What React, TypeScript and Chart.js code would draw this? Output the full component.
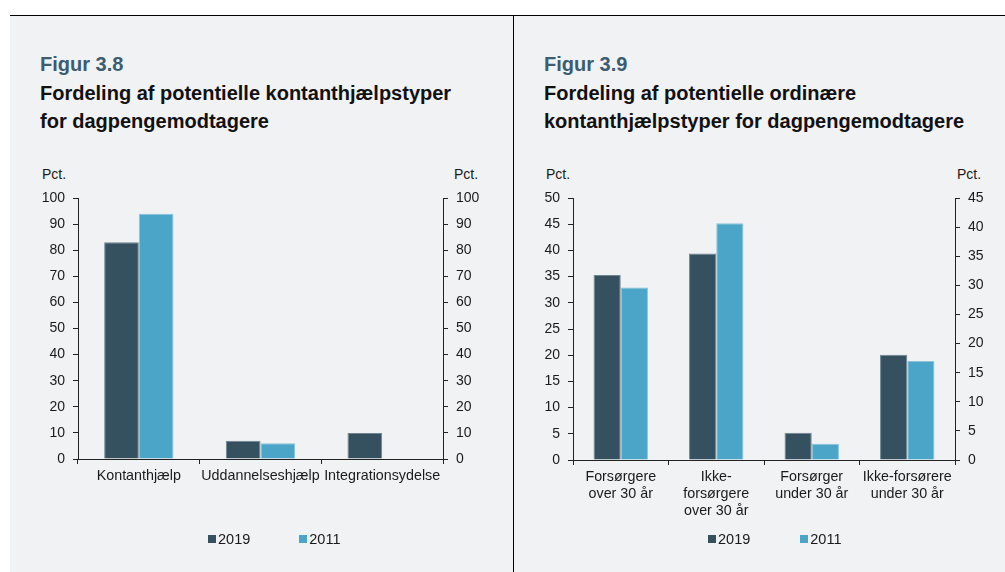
import React, { useEffect, useRef } from "react";
import { Chart, registerables } from "chart.js";

Chart.register(...registerables);

const FONT = "'Liberation Sans', Arial, Helvetica, sans-serif";

// ---- Figur 3.8 data ----
const fig1Categories = ["Kontanthjælp", "Uddannelseshjælp", "Integrationsydelse"];
const fig1Values2019 = [83, 7, 10];
const fig1Values2011: (number | null)[] = [94, 6, null];
const fig1LeftAxis = [0, 100, 10]; // min, max, step
const fig1RightAxis = [0, 100, 10];

// ---- Figur 3.9 data ----
const fig2Categories = [
  ["Forsørgere", "over 30 år"],
  ["Ikke-", "forsørgere", "over 30 år"],
  ["Forsørger", "under 30 år"],
  ["Ikke-forsørere", "under 30 år"],
];
const fig2Values2019 = [35.3, 39.4, 5.2, 20.1];
const fig2Values2011 = [32.9, 45.2, 3.1, 18.9];
const fig2LeftAxis = [0, 50, 5];
const fig2RightAxis = [0, 45, 5];

const seriesNames = ["2019", "2011"];
const seriesColors = ["#35515f", "#4ba5c9"];
const seriesBorders = ["#6f8592", "#8cc3da"];

const AXIS = "#222222";
const TEXT = "#1a1a1a";

function makeConfig(
  categories: any[],
  v2019: (number | null)[],
  v2011: (number | null)[],
  left: number[],
  right: number[],
  xHeight: number,
  bottomPad: number,
  leftW: number,
  rightW: number
): any {
  const tickFont = { family: FONT, size: 14 };
  return {
    type: "bar",
    data: {
      labels: categories,
      datasets: [v2019, v2011].map((d, i) => ({
        label: seriesNames[i],
        data: d,
        backgroundColor: seriesColors[i],
        borderColor: seriesBorders[i],
        borderWidth: 1,
        categoryPercentage: 0.57,
        barPercentage: 1,
        yAxisID: "y",
      })),
    },
    options: {
      animation: false,
      responsive: false,
      maintainAspectRatio: false,
      layout: { padding: { top: 48, bottom: bottomPad, left: 0, right: 0 } },
      plugins: {
        legend: { display: false },
        tooltip: { enabled: false },
      },
      scales: {
        x: {
          grid: {
            display: true,
            drawOnChartArea: false,
            drawTicks: true,
            tickLength: 5,
            color: AXIS,
            offset: true,
          },
          border: { display: true, color: AXIS, width: 1 },
          ticks: {
            color: TEXT,
            font: { family: FONT, size: 14.3 },
            padding: 3,
            maxRotation: 0,
            minRotation: 0,
            autoSkip: false,
          },
          afterFit: (s: any) => {
            s.height = xHeight;
          },
        },
        y: {
          position: "left",
          min: left[0],
          max: left[1],
          grid: {
            display: true,
            drawOnChartArea: false,
            drawTicks: true,
            tickLength: 5,
            color: AXIS,
          },
          border: { display: true, color: AXIS, width: 1 },
          ticks: { stepSize: left[2], color: TEXT, font: tickFont, padding: 8 },
          afterFit: (s: any) => {
            s.width = leftW;
          },
        },
        y2: {
          position: "right",
          min: right[0],
          max: right[1],
          grid: {
            display: true,
            drawOnChartArea: false,
            drawTicks: true,
            tickLength: 5,
            color: AXIS,
          },
          border: { display: true, color: AXIS, width: 1 },
          ticks: { stepSize: right[2], color: TEXT, font: tickFont, padding: 8 },
          afterFit: (s: any) => {
            s.width = rightW;
          },
        },
      },
    },
  };
}

function BarCanvas(props: {
  config: any;
  left: number;
  top: number;
  width: number;
  height: number;
}) {
  const ref = useRef<HTMLCanvasElement | null>(null);
  useEffect(() => {
    if (!ref.current) return;
    const chart = new Chart(ref.current, props.config);
    return () => chart.destroy();
  }, []);
  return (
    <canvas
      ref={ref}
      width={props.width}
      height={props.height}
      style={{
        position: "absolute",
        left: props.left,
        top: props.top,
        width: props.width,
        height: props.height,
      }}
    />
  );
}

function Legend(props: { left: number; top: number; gap: number }) {
  return (
    <div
      style={{
        position: "absolute",
        left: props.left,
        top: props.top,
        display: "flex",
        alignItems: "center",
        fontFamily: FONT,
        fontSize: 14.5,
        lineHeight: "16px",
        color: TEXT,
        whiteSpace: "nowrap",
      }}
    >
      {seriesNames.map((name, i) => (
        <div
          key={name}
          style={{
            display: "flex",
            alignItems: "center",
            marginLeft: i === 0 ? 0 : props.gap,
          }}
        >
          <span
            style={{
              display: "inline-block",
              width: 8,
              height: 8,
              background: seriesColors[i],
              marginRight: 2,
            }}
          />
          <span>{name}</span>
        </div>
      ))}
    </div>
  );
}

const figNumStyle: React.CSSProperties = {
  position: "absolute",
  fontFamily: FONT,
  fontWeight: "bold",
  fontSize: 20,
  lineHeight: "28px",
  color: "#3c5c70",
  whiteSpace: "nowrap",
};
const titleStyle: React.CSSProperties = {
  position: "absolute",
  fontFamily: FONT,
  fontWeight: "bold",
  fontSize: 20,
  lineHeight: "28px",
  color: "#111111",
  whiteSpace: "nowrap",
};
const unitStyle: React.CSSProperties = {
  position: "absolute",
  fontFamily: FONT,
  fontSize: 14,
  lineHeight: "16px",
  color: TEXT,
  whiteSpace: "nowrap",
};

export default function App() {
  const cfg1 = makeConfig(
    fig1Categories,
    fig1Values2019,
    fig1Values2011,
    fig1LeftAxis,
    fig1RightAxis,
    60,
    53,
    78,
    105
  );
  const cfg2 = makeConfig(
    fig2Categories,
    fig2Values2019,
    fig2Values2011,
    fig2LeftAxis,
    fig2RightAxis,
    60,
    52,
    33,
    55
  );
  return (
    <div
      style={{
        position: "absolute",
        left: 0,
        top: 0,
        width: 1005,
        height: 572,
        background: "#ffffff",
        overflow: "hidden",
      }}
    >
      <div
        style={{
          position: "absolute",
          left: 10,
          top: 16,
          width: 995,
          height: 556,
          background: "#f1f2f4",
        }}
      />
      <div
        style={{
          position: "absolute",
          left: 10,
          top: 15,
          width: 995,
          height: 1,
          background: "#000",
        }}
      />
      <div
        style={{
          position: "absolute",
          left: 513,
          top: 15,
          width: 1,
          height: 557,
          background: "#000",
        }}
      />

      <div style={{ ...figNumStyle, left: 40, top: 50 }}>Figur 3.8</div>
      <div style={{ ...titleStyle, left: 40, top: 79 }}>
        Fordeling af potentielle kontanthjælpstyper
        <br />
        for dagpengemodtagere
      </div>
      <div style={{ ...figNumStyle, left: 544, top: 50 }}>Figur 3.9</div>
      <div style={{ ...titleStyle, left: 544, top: 79 }}>
        Fordeling af potentielle ordinære
        <br />
        kontanthjælpstyper for dagpengemodtagere
      </div>

      <div style={{ ...unitStyle, left: 42, top: 166 }}>Pct.</div>
      <div style={{ ...unitStyle, left: 454, top: 166 }}>Pct.</div>
      <div style={{ ...unitStyle, left: 546, top: 166 }}>Pct.</div>
      <div style={{ ...unitStyle, left: 957, top: 166 }}>Pct.</div>

      <BarCanvas config={cfg1} left={0} top={150} width={548} height={422} />
      <BarCanvas config={cfg2} left={540} top={150} width={470} height={422} />

      <Legend left={208} top={531} gap={49} />
      <Legend left={708} top={531} gap={50} />
    </div>
  );
}
